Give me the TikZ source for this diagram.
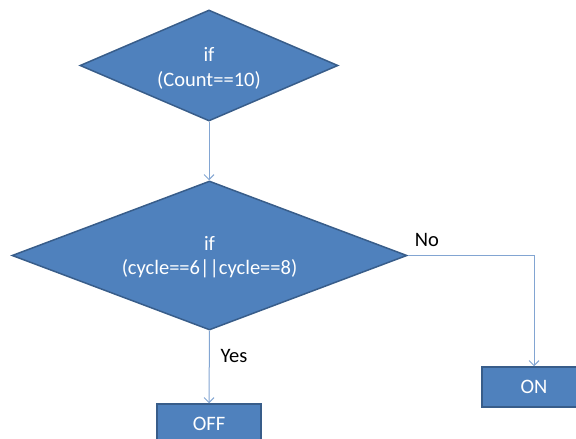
\documentclass[tikz,border=0pt]{standalone}
\usepackage{fontspec}
\setmainfont{Carlito}
\usetikzlibrary{shapes.geometric,arrows.meta}
\definecolor{boxfill}{RGB}{79,129,189}
\definecolor{boxline}{RGB}{56,93,138}
\definecolor{connc}{RGB}{130,165,210}
\begin{document}
\begin{tikzpicture}[x=1pt,y=-1pt,
  every node/.style={font=\fontsize{20.5}{24.5}\selectfont},
  dia/.style={diamond, draw=boxline, fill=boxfill, line width=1.5pt, inner sep=0pt, aspect=2.3},
  proc/.style={rectangle, draw=boxline, fill=boxfill, line width=1.5pt, inner sep=0pt,
    minimum width=104pt, minimum height=40pt, text=white},
  intext/.style={text=white, align=center, inner sep=0pt},
  conn/.style={draw=connc, line width=1pt, -{Straight Barb[length=5pt,width=10pt]}},
  lab/.style={text=black, inner sep=0pt}]
\useasboundingbox (0,0) rectangle (576,439);
\clip (0,0) rectangle (576,439);
\node[dia, minimum width=258pt, minimum height=111pt] (d1) at (209,65.5) {};
\node[intext] (t1) at ([yshift=-3pt]d1.center) {if\\(Count==10)};
\node[dia, minimum width=395pt, minimum height=149pt] (d2) at (209.5,255.5) {};
\node[intext] (t2) at ([yshift=-1.5pt]d2.center) {if\\(cycle==6||cycle==8)};
\node[proc] (off) at (209,424) {OFF};
\node[proc] (on) at (534,387) {ON};
\draw[conn] (d1.south) -- (off.north |- d2.north);
\draw[conn] (d2.south) -- (off.north);
\draw[conn] (d2.east) -| (on.north);
\node[lab] (no) at (427,240) {No};
\node[lab] (yes) at (234,356) {Yes};
\end{tikzpicture}
\end{document}
